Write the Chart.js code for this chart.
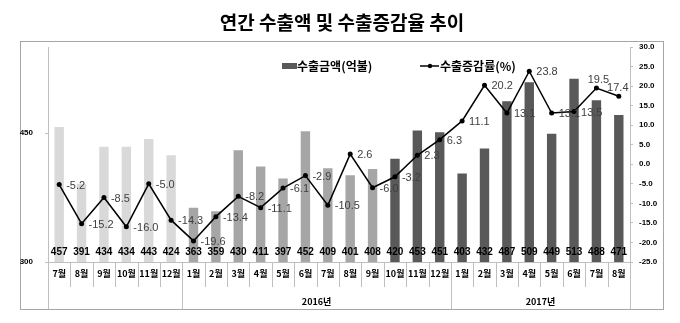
<!DOCTYPE html>
<html>
<head>
<meta charset="utf-8">
<script src="https://cdn.jsdelivr.net/npm/chart.js@4.4.1/dist/chart.umd.min.js"></script>
<style>
  html, body { margin: 0; padding: 0; background: #fff; }
  canvas { display: block; }
</style>
</head>
<body>
<canvas id="chart" width="680" height="323"></canvas>
<script>
// 월별 카테고리 (2015.7 ~ 2017.8)
const months = ['7월', '8월', '9월', '10월', '11월', '12월',
    '1월', '2월', '3월', '4월', '5월', '6월', '7월', '8월', '9월', '10월', '11월', '12월',
    '1월', '2월', '3월', '4월', '5월', '6월', '7월', '8월'];
// 연도 그룹 (라벨, 포함 개월 수)
const yearLabels = ['', '2016년', '2017년'];
const yearSpans = [6, 12, 8];

// 수출금액 (억불)
const exportAmount = [457, 391, 434, 434, 443, 424,
    363, 359, 430, 411, 397, 452, 409, 401, 408, 420, 453, 451,
    403, 432, 487, 509, 449, 513, 488, 471];
// 수출증감률 (%)
const growthRate = [-5.2, -15.2, -8.5, -16.0, -5.0, -14.3,
    -19.6, -13.4, -8.2, -11.1, -6.1, -2.9, -10.5, 2.6, -6.0, -3.2, 2.3, 6.3,
    11.1, 20.2, 13.1, 23.8, 13.1, 13.5, 19.5, 17.4];

// left axis shows only these ticks
const amountTicks = [300, 450];

const titleText = '연간 수출액 및 수출증감율 추이';
const legendBar = '수출금액(억불)';
const legendLine = '수출증감률(%)';

const KR = '"Noto Sans CJK KR", "Noto Sans", sans-serif';
const NUM = '"Liberation Sans", Arial, sans-serif';
const AXIS = '#bfbfbf';

// bar shade: 2015 light, 2016.1~9 medium, after that dark
const barColors = exportAmount.map((v, i) => i < 6 ? '#d9d9d9' : (i < 15 ? '#a6a6a6' : '#595959'));

// frame, title, bottom category table, legend, labels
const decorations = {
    id: 'decorations',
    beforeDraw(chart) {
        const c = chart.ctx;
        c.save();
        c.fillStyle = '#fff';
        c.fillRect(0, 0, chart.width, chart.height);
        c.strokeStyle = '#a6a6a6';
        c.lineWidth = 1;
        c.strokeRect(20.5, 41.5, 643, 268);
        c.fillStyle = '#000';
        c.font = 'bold 19px ' + KR;
        c.textAlign = 'center';
        c.textBaseline = 'middle';
        c.fillText(titleText, 342, 23);
        c.restore();
    },
    afterDatasetsDraw(chart) {
        const c = chart.ctx;
        const x = chart.scales.x, y = chart.scales.y, y1 = chart.scales.y1;
        const area = chart.chartArea;
        c.save();

        // bar value labels at the bottom of each bar
        c.font = 'bold 10px ' + NUM;
        c.fillStyle = '#000';
        c.textAlign = 'center';
        c.textBaseline = 'middle';
        const baseY = y.getPixelForValue(300) - 10;
        exportAmount.forEach((v, i) => {
            c.fillText(String(v), x.getPixelForValue(i), baseY);
        });

        // growth rate labels beside each point
        c.font = '11px ' + NUM;
        c.fillStyle = '#404040';
        growthRate.forEach((v, i) => {
            const px = x.getPixelForValue(i);
            const py = y1.getPixelForValue(v);
            if (i >= growthRate.length - 2) {
                c.textAlign = 'center';
                c.fillText(v.toFixed(1), px + (i === growthRate.length - 1 ? -1 : 2), py - 8);
            } else {
                c.textAlign = 'left';
                c.fillText(v.toFixed(1), px + 7, py + 1);
            }
        });

        // category separators under the axis
        const step = (area.right - area.left) / months.length;
        const groupEdges = [0];
        yearSpans.forEach(s => groupEdges.push(groupEdges[groupEdges.length - 1] + s));
        c.strokeStyle = AXIS;
        c.lineWidth = 1;
        for (let i = 0; i <= months.length; i++) {
            const bx = Math.round(area.left + step * i) + 0.5;
            const long = groupEdges.includes(i);
            c.beginPath();
            c.moveTo(bx, area.bottom);
            c.lineTo(bx, long ? 309 : area.bottom + 25);
            c.stroke();
        }

        // year labels
        c.font = 'bold 9px ' + KR;
        c.fillStyle = '#000';
        c.textAlign = 'center';
        yearLabels.forEach((lab, g) => {
            if (!lab) return;
            const cx = area.left + step * (groupEdges[g] + groupEdges[g + 1]) / 2;
            c.fillText(lab, cx, 302);
        });

        // legend
        const ly = 66;
        c.fillStyle = '#595959';
        c.fillRect(282, ly - 3, 15, 6);
        c.font = 'bold 12px ' + KR;
        c.fillStyle = '#000';
        c.textAlign = 'left';
        c.fillText(legendBar, 297, ly);
        c.strokeStyle = '#000';
        c.lineWidth = 1.5;
        c.beginPath();
        c.moveTo(420, ly);
        c.lineTo(439, ly);
        c.stroke();
        c.beginPath();
        c.arc(430, ly, 2.2, 0, Math.PI * 2);
        c.fillStyle = '#000';
        c.fill();
        c.fillText(legendLine, 440, ly);

        c.restore();
    }
};

const ctx = document.getElementById('chart').getContext('2d');
const chart = new Chart(ctx, {
    type: 'bar',
    data: {
        labels: months,
        datasets: [{
            type: 'line',
            label: legendLine,
            data: growthRate,
            yAxisID: 'y1',
            borderColor: '#000',
            backgroundColor: '#000',
            borderWidth: 1.5,
            pointRadius: 2.5,
            pointBackgroundColor: '#000',
            pointBorderWidth: 0,
            tension: 0,
            order: 0
        }, {
            type: 'bar',
            label: legendBar,
            data: exportAmount,
            yAxisID: 'y',
            backgroundColor: barColors,
            categoryPercentage: 1,
            barPercentage: 0.42,
            order: 1
        }]
    },
    options: {
        responsive: false,
        animation: false,
        layout: { padding: { top: 47, left: 0, right: 0, bottom: 0 } },
        plugins: {
            legend: { display: false },
            title: { display: false },
            tooltip: { enabled: false }
        },
        scales: {
            x: {
                grid: { drawOnChartArea: false, drawTicks: false },
                border: { color: AXIS },
                ticks: {
                    font: { family: KR, size: 9, weight: 'bold' },
                    color: '#000',
                    padding: 6,
                    maxRotation: 0,
                    autoSkip: false
                },
                afterFit: s => { s.height = 61; }
            },
            y: {
                position: 'left',
                min: 300,
                max: 550,
                afterBuildTicks: s => { s.ticks = amountTicks.map(v => ({ value: v })); },
                ticks: {
                    padding: 12,
                    color: '#000',
                    font: { family: NUM, size: 8, weight: 'bold' }
                },
                grid: { drawOnChartArea: false, tickLength: 3, color: AXIS },
                border: { color: AXIS },
                afterFit: s => { s.width = 48; }
            },
            y1: {
                position: 'right',
                min: -25,
                max: 30,
                ticks: {
                    stepSize: 5,
                    padding: 6,
                    color: '#000',
                    font: { family: NUM, size: 8, weight: 'bold' },
                    callback: v => Number(v).toFixed(1)
                },
                grid: { drawOnChartArea: false, tickLength: 3, color: AXIS },
                border: { color: AXIS },
                afterFit: s => { s.width = 50; }
            }
        }
    },
    plugins: [decorations]
});
</script>
</body>
</html>
